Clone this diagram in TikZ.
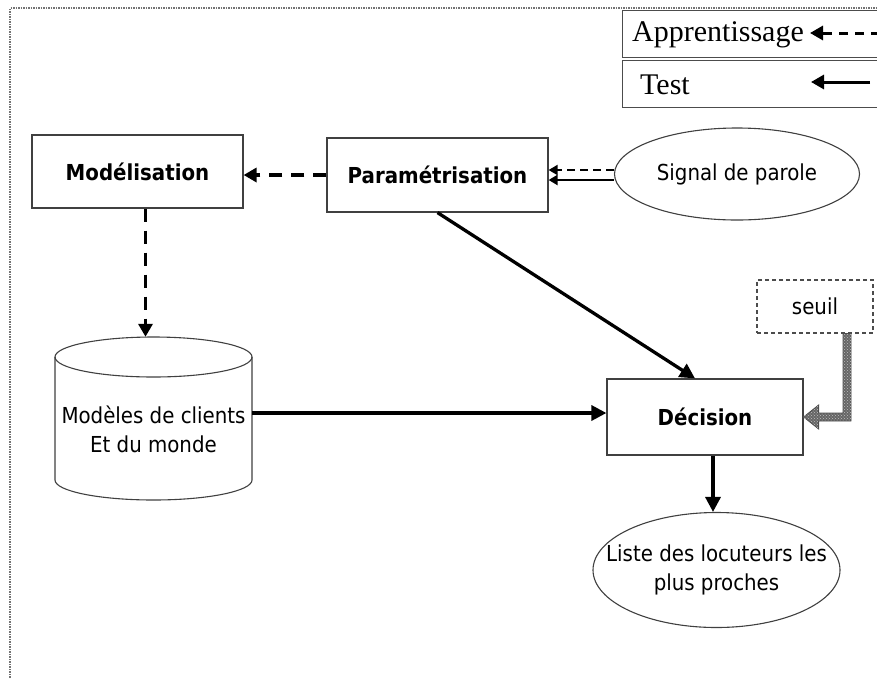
\documentclass[tikz,border=0pt]{standalone}
\usepackage{fontspec}
\setmainfont{Liberation Serif}
\newfontfamily\tah{DejaVu Sans Condensed}[BoldFont={DejaVu Sans Condensed Bold}]
\usetikzlibrary{arrows.meta,patterns,calc,shapes.geometric}

\begin{document}
\begin{tikzpicture}[x=1pt,y=-1pt,
  box/.style={draw=black!75, line width=1.2pt, rectangle, inner sep=0pt, fill=white},
  legbox/.style={draw=black!70, line width=1.4pt, rectangle, inner sep=0pt, anchor=north west},
  blabel/.style={font=\tah\bfseries\fontsize{22}{26}\selectfont},
  rlabel/.style={font=\tah\fontsize{22}{29}\selectfont, align=center},
  oval/.style={draw=black!75, line width=1.1pt, ellipse, inner sep=0pt, fill=white},
  flow/.style={line width=3.3pt, -{Triangle[length=15pt,width=15pt]}},
  learn/.style={line width=3.3pt, dash pattern=on 13pt off 9pt, -{Triangle[length=13pt,width=14pt]}},
  smallflow/.style={line width=2.4pt, -{Triangle[length=9pt,width=10pt]}},
  smalllearn/.style={line width=2pt, dash pattern=on 8pt off 5pt, -{Triangle[length=9pt,width=10pt]}},
  legtext/.style={font=\fontsize{30}{34}\selectfont, inner sep=0pt, anchor=base west},
]
\useasboundingbox (0,0) rectangle (877,678);
\clip (0,0) rectangle (877,678);

% dotted page frame
\draw[black!55, line width=1.3pt, dash pattern=on 1.5pt off 1pt] (10,690) -- (10,8) -- (895,8);

% legend
\node[legbox, minimum width=280pt, minimum height=47pt] (leg1) at (622,10) {};
\node[legbox, minimum width=280pt, minimum height=47pt] (leg2) at (622,60) {};
\node[legtext] (txA) at (632,41) {Apprentissage};
\node[legtext] (txT) at (640,94) {Test};
\coordinate (la0) at (880,33);
\coordinate (la1) at (810,33);
\coordinate (lt0) at (870,82);
\coordinate (lt1) at (811,82);
\draw[line width=3pt, dash pattern=on 9pt off 7pt, -{Triangle[length=13pt,width=14pt]}] (la0) -- (la1);
\draw[line width=3pt, -{Triangle[length=13pt,width=14pt]}] (lt0) -- (lt1);

% blocks
\node[box, minimum width=211pt, minimum height=73pt, blabel] (mod) at (137.5,171.5) {Modélisation};
\node[box, minimum width=221pt, minimum height=74pt, blabel] (par) at (437.5,175) {Paramétrisation};
\node[box, minimum width=196pt, minimum height=76pt, blabel] (dec) at (705,417) {Décision};
\node[box, draw=black!70, line width=1.1pt, dash pattern=on 4pt off 3pt, minimum width=116pt, minimum height=53pt, rlabel] (seuil) at (815,306.5) {seuil};
\node[oval, minimum width=245pt, minimum height=92pt, label={[rlabel]center:Signal de parole}] (sig) at (737,174) {};
\node[oval, minimum width=247pt, minimum height=115pt, label={[rlabel]center:{Liste des locuteurs les\\plus proches}}] (lst) at (716.5,570) {};

% database cylinder
\filldraw[fill=white, draw=black!75, line width=1.1pt]
  (55,357) -- (55,480) arc[start angle=180, end angle=360, x radius=98.5pt, y radius=20pt] -- (252,357);
\draw[black!75, line width=1.1pt] (153.5,357) ellipse[x radius=98.5pt, y radius=20pt];
\node[inner sep=0pt, minimum width=197pt, minimum height=163pt] (db) at (153.5,418.5) {};
\node[rlabel] (dbt) at (153.5,429) {Modèles de clients\\Et du monde};

% learning paths (dashed)
\draw[learn] (par.west) -- (par.west -| mod.east);
\draw[learn] ([xshift=8pt]mod.south) -- ([xshift=8pt]mod.south |- db.north);
\draw[smalllearn] ([yshift=4pt]sig.west) -- ([yshift=4pt]sig.west -| par.east);

% test paths (solid)
\draw[smallflow] ([yshift=-6pt]sig.west) -- ([yshift=-6pt]sig.west -| par.east);
\draw[flow] (par.south) -- ([xshift=-10pt]dec.north);
\draw[flow] ([yshift=4pt]dec.west -| db.east) -- ([yshift=4pt]dec.west);
\draw[flow] ([xshift=8pt]dec.south) -- ([xshift=8pt]dec.south |- lst.north);

% threshold block arrow
\path (seuil.south) ++(32,0) coordinate (s0);
\coordinate (s1) at (s0 |- dec.east);
\filldraw[fill=black!60, draw=black!70, line width=0.8pt]
  ([shift={(-4,0)}]s0) -- ([shift={(4,0)}]s0) -- ([shift={(4,4)}]s1)
  -- ([shift={(15,4)}]dec.east) -- ([shift={(15,12)}]dec.east) -- (dec.east)
  -- ([shift={(15,-12)}]dec.east) -- ([shift={(15,-4)}]dec.east)
  -- ([shift={(-4,-4)}]s1) -- cycle;
\fill[pattern=crosshatch dots, pattern color=white!75!black]
  ([shift={(-4,0)}]s0) -- ([shift={(4,0)}]s0) -- ([shift={(4,4)}]s1)
  -- ([shift={(15,4)}]dec.east) -- ([shift={(15,12)}]dec.east) -- (dec.east)
  -- ([shift={(15,-12)}]dec.east) -- ([shift={(15,-4)}]dec.east)
  -- ([shift={(-4,-4)}]s1) -- cycle;
\end{tikzpicture}
\end{document}
